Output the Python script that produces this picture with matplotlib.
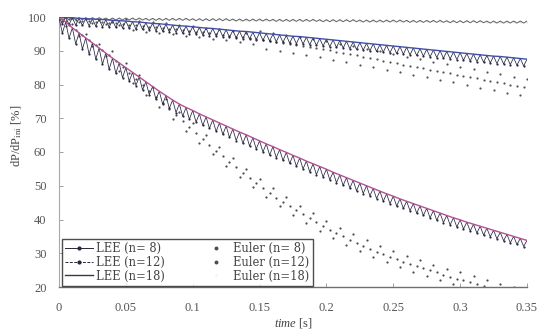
import numpy as np
import matplotlib
matplotlib.use("Agg")
import matplotlib.pyplot as plt
from matplotlib.lines import Line2D

# ---------------- data ----------------
dt = 0.005                        # spacing of the "on-grid" samples [s]
n_on = 71                         # 0 ... 0.35 s

# LEE (n=8): upper points (on grid) and lower points (half-way between)
lee8_peak = [99.8, 98.5, 96.8, 95.3, 93.8, 92.3, 90.8, 89.3, 87.8, 86.4,
             85.0, 83.6, 82.2, 80.8, 79.4, 78.0, 76.7, 75.4, 74.2, 73.2,
             72.3, 71.3, 70.4, 69.5, 68.6, 67.7, 66.8, 65.9, 65.1, 64.2,
             63.3, 62.4, 61.6, 60.7, 59.9, 59.0, 58.2, 57.3, 56.5, 55.7,
             54.9, 54.0, 53.2, 52.4, 51.6, 50.8, 50.0, 49.2, 48.4, 47.6,
             46.9, 46.1, 45.4, 44.7, 44.0, 43.3, 42.6, 41.9, 41.2, 40.5,
             39.9, 39.2, 38.6, 38.0, 37.4, 36.8, 36.2, 35.6, 35.0, 34.4,
             33.8]
lee8_trough = [95.2, 93.7, 92.0, 90.5, 89.0, 87.5, 86.0, 84.5, 83.3, 82.0,
               81.0, 79.7, 78.4, 77.0, 75.6, 74.2, 72.9, 71.7, 70.6, 69.7,
               68.9, 67.9, 67.0, 66.1, 65.2, 64.3, 63.4, 62.6, 61.8, 60.9,
               60.0, 59.1, 58.3, 57.5, 56.6, 55.8, 55.0, 54.1, 53.3, 52.6,
               51.8, 50.9, 50.1, 49.3, 48.5, 47.7, 47.0, 46.2, 45.4, 44.7,
               44.0, 43.3, 42.6, 41.9, 41.2, 40.5, 39.8, 39.1, 38.4, 37.8,
               37.2, 36.6, 36.0, 35.4, 34.9, 34.3, 33.7, 33.1, 32.6, 32.0]

# LEE (n=12)
lee12_peak = [100.0, 99.9, 99.8, 99.6, 99.5, 99.4, 99.3, 99.2, 99.0, 98.9,
              98.8, 98.6, 98.5, 98.3, 98.1, 98.0, 97.8, 97.6, 97.4, 97.3,
              97.1, 96.9, 96.7, 96.6, 96.4, 96.2, 96.0, 95.8, 95.7, 95.5,
              95.3, 95.1, 94.9, 94.7, 94.5, 94.3, 94.2, 94.0, 93.8, 93.6,
              93.4, 93.2, 93.0, 92.8, 92.6, 92.4, 92.2, 92.0, 91.8, 91.6,
              91.4, 91.2, 91.0, 90.8, 90.6, 90.4, 90.2, 90.0, 89.8, 89.6,
              89.4, 89.2, 89.0, 88.8, 88.6, 88.4, 88.3, 88.1, 87.9, 87.7,
              87.5]
lee12_trough = [97.9, 97.8, 97.6, 97.5, 97.4, 97.3, 97.1, 97.0, 96.9, 96.8,
                96.6, 96.4, 96.3, 96.1, 95.9, 95.8, 95.6, 95.4, 95.2, 95.1,
                94.9, 94.7, 94.5, 94.4, 94.2, 94.0, 93.8, 93.6, 93.5, 93.3,
                93.1, 92.9, 92.7, 92.5, 92.3, 92.1, 92.0, 91.8, 91.6, 91.4,
                91.2, 91.0, 90.8, 90.6, 90.4, 90.2, 90.0, 89.8, 89.6, 89.4,
                89.2, 89.0, 88.8, 88.6, 88.4, 88.2, 88.0, 87.8, 87.6, 87.4,
                87.2, 87.0, 86.8, 86.6, 86.4, 86.2, 86.1, 85.9, 85.7, 85.5]

# LEE (n=18)
lee18_peak = [99.8] * 7 + [99.7] * 6 + [99.6] * 7 + [99.5] * 6 + [99.4] * 6 + \
             [99.3] * 7 + [99.2] * 6 + [99.1] * 7 + [99.0] * 6 + [98.9] * 6 + \
             [98.8] * 7
lee18_trough = [99.2] * 7 + [99.1] * 6 + [99.0] * 7 + [98.9] * 6 + [98.8] * 6 + \
               [98.7] * 7 + [98.6] * 6 + [98.5] * 7 + [98.4] * 6 + [98.3] * 6 + \
               [98.2] * 6

# Euler (n=8)
euler8_on = [100.0, 97.3, 98.0, 94.5, 95.0, 91.5, 92.0, 88.4, 89.8, 84.0,
             86.3, 80.5, 82.8, 77.0, 79.2, 73.4, 75.6, 69.8, 72.0, 66.2,
             68.5, 62.7, 65.0, 59.3, 61.6, 55.9, 58.3, 52.7, 55.1, 49.5,
             52.0, 46.6, 49.2, 43.9, 46.6, 41.3, 44.1, 38.9, 41.8, 36.7,
             39.6, 34.5, 37.5, 32.5, 35.6, 30.7, 33.8, 28.9, 32.1, 27.3,
             30.6, 25.9, 29.2, 24.5, 27.9, 23.2, 26.6, 22.0, 25.4, 20.8,
             24.3, 19.7, 23.2, 18.6, 22.1, 17.5, 21.0, 16.5, 20.0, 15.5,
             19.0]
euler8_off = [98.9, 97.6, 96.2, 94.7, 93.2, 91.7, 90.2, 88.6, 86.9, 85.1,
              83.4, 81.6, 79.9, 78.1, 76.3, 74.5, 72.7, 70.9, 69.1, 67.3,
              65.6, 63.8, 62.1, 60.4, 58.7, 57.1, 55.5, 53.9, 52.3, 50.7,
              49.3, 47.9, 46.5, 45.2, 43.9, 42.7, 41.5, 40.3, 39.2, 38.1,
              37.0, 36.0, 35.0, 34.0, 33.1, 32.2, 31.3, 30.5, 29.7, 28.9,
              28.2, 27.5, 26.8, 26.2, 25.5, 24.9, 24.3, 23.7, 23.1, 22.5,
              22.0, 21.4, 20.9, 20.3, 19.8, 19.2, 18.7, 18.2, 17.7, 17.2]

# Euler (n=12)
euler12_on = [100.0, 98.8, 99.7, 98.5, 99.3, 98.2, 99.0, 97.8, 98.6, 97.5,
              99.3, 96.1, 98.9, 95.7, 98.5, 95.3, 98.1, 94.9, 97.7, 94.5,
              97.3, 94.1, 96.8, 93.6, 96.3, 93.1, 95.8, 92.6, 95.3, 92.1,
              95.8, 90.5, 95.2, 89.9, 94.6, 89.3, 94.0, 88.7, 93.4, 88.1,
              92.8, 87.4, 92.0, 86.7, 91.3, 85.9, 90.5, 85.1, 89.8, 84.4,
              89.0, 83.6, 88.2, 82.9, 87.5, 82.1, 86.7, 81.3, 86.0, 80.6,
              85.2, 79.8, 84.5, 79.1, 83.7, 78.4, 83.0, 77.6, 82.2, 76.9,
              81.5]
euler12_off = [99.4, 99.3, 99.1, 98.9, 98.8, 98.6, 98.4, 98.2, 98.1, 97.9,
               97.7, 97.5, 97.3, 97.1, 96.9, 96.7, 96.5, 96.3, 96.1, 95.9,
               95.7, 95.5, 95.2, 95.0, 94.7, 94.5, 94.2, 94.0, 93.7, 93.5,
               93.2, 92.9, 92.6, 92.3, 92.0, 91.7, 91.4, 91.1, 90.8, 90.5,
               90.1, 89.7, 89.4, 89.0, 88.6, 88.2, 87.8, 87.5, 87.1, 86.7,
               86.3, 85.9, 85.6, 85.2, 84.8, 84.4, 84.0, 83.7, 83.3, 82.9,
               82.5, 82.2, 81.8, 81.4, 81.1, 80.7, 80.3, 79.9, 79.6, 79.2]

# Euler (n=18) - hidden under LEE (n=18)
euler18_on = [99.6] * 7 + [99.5] * 6 + [99.4] * 7 + [99.3] * 6 + [99.2] * 6 + \
             [99.1] * 7 + [99.0] * 6 + [98.9] * 7 + [98.8] * 6 + [98.7] * 6 + \
             [98.6] * 7

legend_labels = ["LEE (n= 8)", "LEE (n=12)", "LEE (n=18)",
                 "Euler (n= 8)", "Euler (n=12)", "Euler (n=18)"]
x_ticks = [0, 0.05, 0.1, 0.15, 0.2, 0.25, 0.3, 0.35]
x_ticklabels = ["0", "0.05", "0.1", "0.15", "0.2", "0.25", "0.3", "0.35"]
y_ticks = [20, 30, 40, 50, 60, 70, 80, 90, 100]

# ---------------- helpers ----------------
t_on = np.arange(n_on) * dt
t_off = t_on[:-1] + dt / 2


def interleave(on, off):
    t = np.empty(len(on) + len(off))
    y = np.empty_like(t)
    t[0::2], t[1::2] = t_on, t_off
    y[0::2], y[1::2] = on, off
    return t, y


plt.rcParams['font.family'] = ['Liberation Serif', 'DejaVu Serif']
plt.rcParams['mathtext.fontset'] = 'custom'
plt.rcParams['mathtext.rm'] = 'Liberation Serif'
plt.rcParams['mathtext.it'] = 'Liberation Serif:italic'

fig = plt.figure(figsize=(5.42, 3.33), dpi=100)
ax = fig.add_axes([59 / 542, 46 / 333, 468 / 542, 270 / 333])

dark = '#262640'
grey = '#4c4c4c'

# Euler n=18 (very faint, hidden)
ax.plot(t_on, euler18_on, ls='none', marker='o', ms=0.8, color='#e8e8e8', zorder=1)

# Euler dots
tE8, yE8 = interleave(euler8_on, euler8_off)
ax.plot(tE8, yE8, ls='none', marker='o', ms=1.6, color=grey, mew=0, zorder=2)
tE12, yE12 = interleave(euler12_on, euler12_off)
ax.plot(tE12, yE12, ls='none', marker='o', ms=1.6, color='#555555', mew=0, zorder=2)

# LEE n=18
t18, y18 = interleave(lee18_peak, lee18_trough)
ax.plot(t18, y18, color='#5f5f5f', lw=0.7, zorder=3)

# LEE n=12
t12, y12 = interleave(lee12_peak, lee12_trough)
ax.plot(t12, y12, color=dark, lw=0.55, zorder=3)
ax.plot(t_off, lee12_trough, ls='none', marker='o', ms=1.6, mew=0, color=dark, zorder=3)
ax.plot(t_on, lee12_peak, color='#4050a8', lw=1.0, zorder=4)

# LEE n=8
t8, y8 = interleave(lee8_peak, lee8_trough)
ax.plot(t8, y8, color=dark, lw=0.55, zorder=3)
ax.plot(t_off, lee8_trough, ls='none', marker='o', ms=1.6, mew=0, color=dark, zorder=3)
ax.plot(t_on, lee8_peak, color='#b45096', lw=1.0, zorder=4)

# axes styling
ax.set_xlim(0, 0.35)
ax.set_ylim(20, 100)
ax.set_xticks(x_ticks)
ax.set_xticklabels(x_ticklabels)
ax.set_yticks(y_ticks)
for s in ['top', 'right']:
    ax.spines[s].set_visible(False)
ax.spines['left'].set_color('#a8a8a8')
ax.spines['bottom'].set_color('#707070')
ax.spines['left'].set_linewidth(0.8)
ax.spines['bottom'].set_linewidth(1.0)
ax.tick_params(axis='both', direction='in', length=3, width=0.7, color='#a0a0a0',
               labelsize=9, labelcolor='#555555')
ax.tick_params(axis='x', pad=11)
ax.tick_params(axis='y', pad=9)

ax.set_ylabel('dP/dP$_{\\rm ini}$ [%]', fontsize=9, color='#444444')
ax.yaxis.set_label_coords(-0.075, 0.56)
ax.set_xlabel('$\\mathit{time}$ [s]', fontsize=9, color='#444444', labelpad=1)

# legend
handles = [
    Line2D([], [], color=dark, lw=0.7, marker='o', ms=2.0),
    Line2D([], [], color=dark, lw=0.7, ls=(0, (3, 1.5)), marker='o', ms=2.0),
    Line2D([], [], color='#3a3a3a', lw=1.0),
    Line2D([], [], ls='none', color=grey, marker='o', ms=1.8),
    Line2D([], [], ls='none', color=grey, marker='o', ms=1.8),
    Line2D([], [], ls='none', color='#f2f2f2', marker='o', ms=0.8),
]
leg = ax.legend(handles, legend_labels, ncol=2, loc='lower left',
                bbox_to_anchor=(0.006, 0.004), frameon=True,
                prop={'family': 'DejaVu Serif', 'size': 8.3},
                fancybox=False, borderpad=0.3, handlelength=2.4,
                handletextpad=0.3, columnspacing=3.2, labelspacing=0.05,
                borderaxespad=0)
leg.get_frame().set_edgecolor('#202020')
leg.get_frame().set_linewidth(1.0)
for txt in leg.get_texts():
    txt.set_color('#444444')

fig.savefig('out.png', dpi=100)
